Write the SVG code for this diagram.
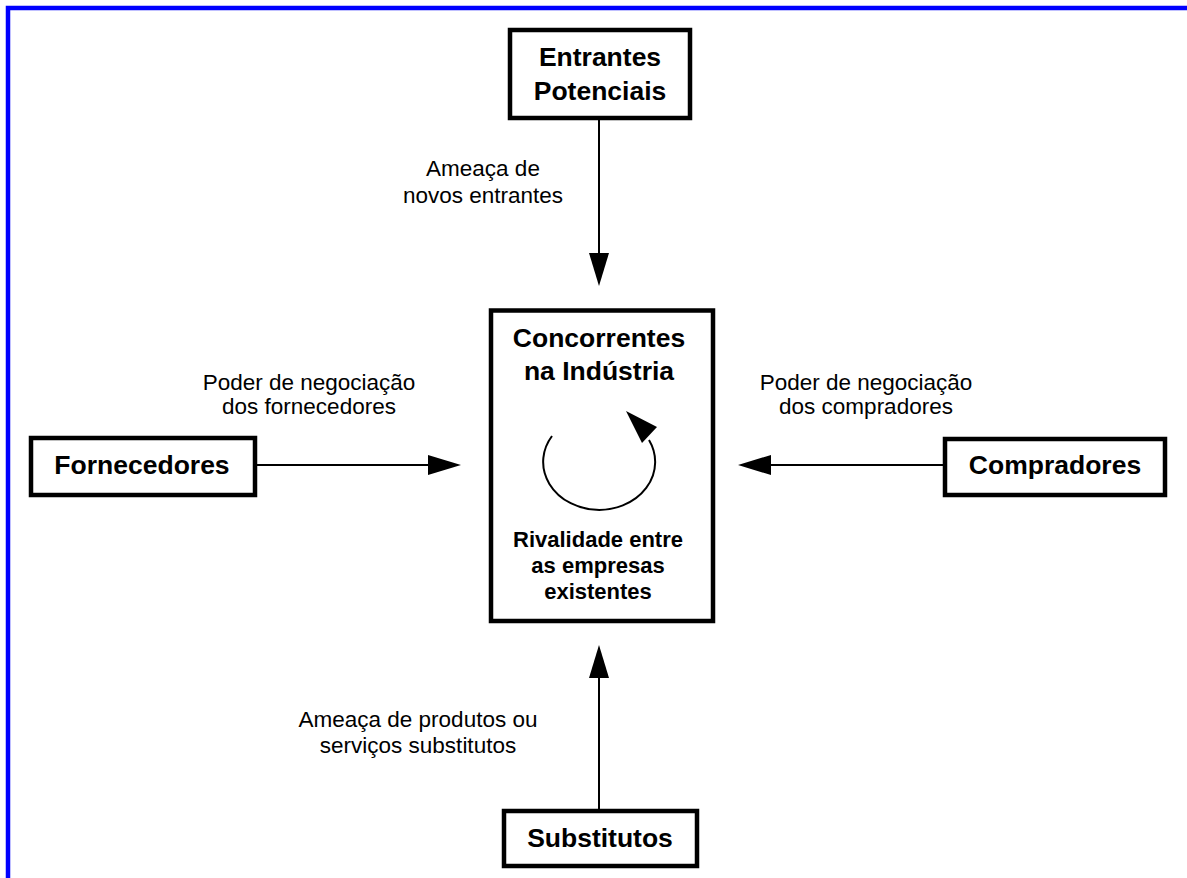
<svg xmlns="http://www.w3.org/2000/svg" width="1187" height="878" viewBox="0 0 1187 878">
  <style>
    .box { fill: #fff; stroke: #000; stroke-width: 4.5; }
    .title { font-family: "Liberation Sans", Arial, sans-serif; font-weight: bold; font-size: 26.5px; fill: #000; text-anchor: middle; }
    .sub { font-family: "Liberation Sans", Arial, sans-serif; font-weight: bold; font-size: 22px; fill: #000; text-anchor: middle; }
    .lbl { font-family: "Liberation Sans", Arial, sans-serif; font-size: 22.5px; fill: #000; text-anchor: middle; }
    .conn { stroke: #000; stroke-width: 2; fill: none; }
    .head { fill: #000; }
  </style>

  <rect width="1187" height="878" fill="#fff"/>
  <!-- frame: top and left rules -->
  <path d="M8 878 V8 H1187" fill="none" stroke="#0000ff" stroke-width="4.5"/>

  <g id="connectors">
    <!-- Entrantes -> Concorrentes -->
    <line class="conn" x1="599" y1="120" x2="599" y2="254"/>
    <polygon class="head" points="589,253 609,253 599,286"/>
    <!-- Fornecedores -> Concorrentes -->
    <line class="conn" x1="257" y1="465" x2="430" y2="465"/>
    <polygon class="head" points="428,455 428,475 461,465"/>
    <!-- Compradores -> Concorrentes -->
    <line class="conn" x1="943" y1="465" x2="770" y2="465"/>
    <polygon class="head" points="771,455 771,475 738,465"/>
    <!-- Substitutos -> Concorrentes -->
    <line class="conn" x1="599" y1="809" x2="599" y2="677"/>
    <polygon class="head" points="589,678 609,678 599,645"/>
  </g>

  <g id="label-entrantes">
    <text class="lbl" x="483" y="176">Ameaça de</text>
    <text class="lbl" x="483" y="203">novos entrantes</text>
  </g>
  <g id="label-fornecedores">
    <text class="lbl" x="309" y="390">Poder de negociação</text>
    <text class="lbl" x="309" y="414">dos fornecedores</text>
  </g>
  <g id="label-compradores">
    <text class="lbl" x="866" y="390">Poder de negociação</text>
    <text class="lbl" x="866" y="414">dos compradores</text>
  </g>
  <g id="label-substitutos">
    <text class="lbl" x="418" y="727">Ameaça de produtos ou</text>
    <text class="lbl" x="418" y="753">serviços substitutos</text>
  </g>

  <g id="entrantes">
    <rect class="box" x="510" y="30" width="180" height="88"/>
    <text class="title" x="600" y="66">Entrantes</text>
    <text class="title" x="600" y="100">Potenciais</text>
  </g>

  <g id="fornecedores">
    <rect class="box" x="31" y="438" width="224" height="57"/>
    <text class="title" x="142" y="474">Fornecedores</text>
  </g>

  <g id="compradores">
    <rect class="box" x="945" y="439" width="220" height="56"/>
    <text class="title" x="1055" y="474">Compradores</text>
  </g>

  <g id="substitutos">
    <rect class="box" x="504" y="811" width="193" height="55"/>
    <text class="title" x="600" y="847">Substitutos</text>
  </g>

  <g id="concorrentes">
    <rect class="box" x="491" y="310.5" width="222" height="310.5"/>
    <text class="title" x="599" y="347">Concorrentes</text>
    <text class="title" x="599" y="380">na Indústria</text>
    <!-- rivalry cycle -->
    <path class="conn" d="M552 436 A56 48 0 1 0 649 440"/>
    <polygon class="head" points="626,411 657,427 642,443"/>
    <text class="sub" x="598" y="547">Rivalidade entre</text>
    <text class="sub" x="598" y="573">as empresas</text>
    <text class="sub" x="598" y="599">existentes</text>
  </g>
</svg>
